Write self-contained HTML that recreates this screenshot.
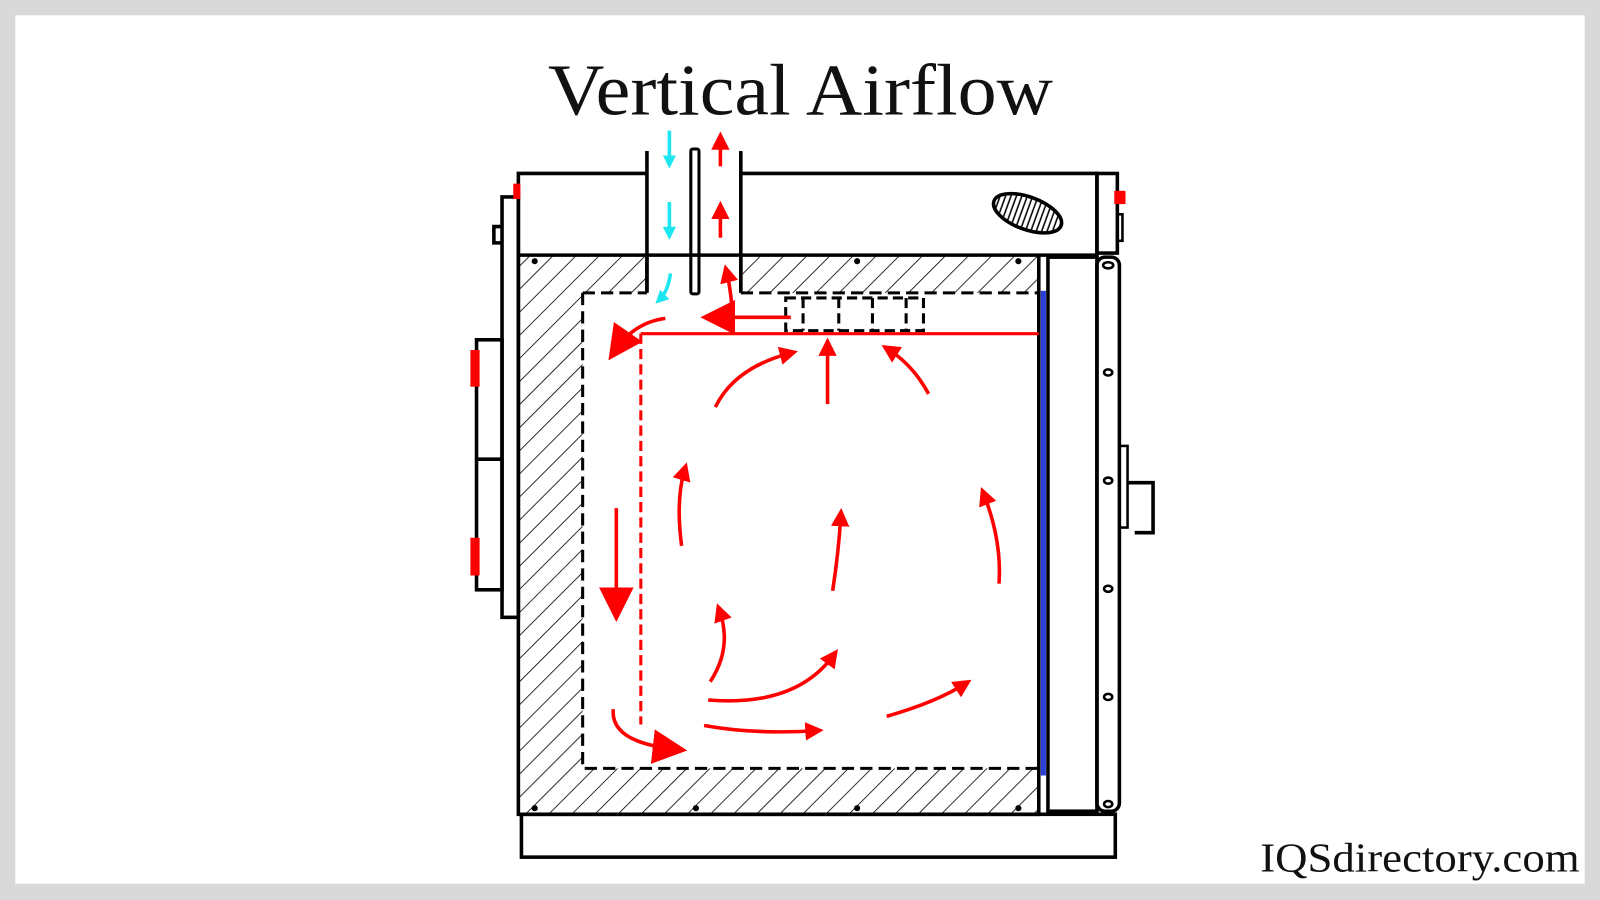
<!DOCTYPE html>
<html><head><meta charset="utf-8"><style>
html,body{margin:0;padding:0;background:#d9d9d9}
svg{display:block}
</style></head><body>
<svg width="1600" height="900" viewBox="0 0 1568 882" preserveAspectRatio="none" xmlns="http://www.w3.org/2000/svg">
<defs>
<pattern id="h" patternUnits="userSpaceOnUse" width="16" height="16" patternTransform="rotate(45)">
<rect width="16" height="16" fill="#fff"/><line x1="0" y1="0" x2="0" y2="16" stroke="#000" stroke-width="1.6"/></pattern>
<pattern id="v" patternUnits="userSpaceOnUse" width="5" height="5"><rect width="5" height="5" fill="#fff"/><line x1="1" y1="0" x2="1" y2="5" stroke="#000" stroke-width="1.5"/></pattern>
<marker id="a" viewBox="0 0 10 10" refX="6" refY="5" markerWidth="18" markerHeight="18" orient="auto" markerUnits="userSpaceOnUse"><path d="M0,0L10,5L0,10z" fill="#f00"/></marker>
<marker id="ab" viewBox="0 0 10 10" refX="6" refY="5" markerWidth="34" markerHeight="34" orient="auto" markerUnits="userSpaceOnUse"><path d="M0,0L10,5L0,10z" fill="#f00"/></marker>
<marker id="ac" viewBox="0 0 10 10" refX="6" refY="5" markerWidth="13" markerHeight="13" orient="auto" markerUnits="userSpaceOnUse"><path d="M0,0L10,5L0,10z" fill="#1de6f0"/></marker>
</defs>
<rect x="15" y="15" width="1538" height="851" fill="#fff"/>
<text x="537" y="112" textLength="495" lengthAdjust="spacingAndGlyphs" font-family="'Liberation Serif',serif" font-size="72" fill="#111">Vertical Airflow</text>
<text x="1235" y="854" textLength="313" lengthAdjust="spacingAndGlyphs" font-family="'Liberation Serif',serif" font-size="40" fill="#111">IQSdirectory.com</text>
<!-- hatched fills -->
<path d="M508,250H634V287H571V753H1018V798H508Z" fill="url(#h)"/>
<path d="M726,250H1018V287H726Z" fill="url(#h)"/>
<g stroke="#000" stroke-width="3.5" fill="none">
<path d="M508,250V798H1018V250"/>
<path d="M634,250V287M726,250V287"/>
<path d="M571,287V753H1018M571,287H634M726,287H1018" stroke-dasharray="12,6" stroke-width="3"/>
<!-- top box -->
<path d="M508,250V170H634M726,170H1075V250H508"/>
<rect x="1075" y="170" width="20" height="78"/>
<rect x="1095" y="210" width="5" height="26" stroke-width="2.5"/>
<path d="M634,148V285M726,148V285"/>
<rect x="677" y="146" width="8" height="142" rx="2" stroke-width="3"/>
<!-- base -->
<rect x="511" y="798" width="582" height="42"/>
<!-- right door -->
<rect x="1027" y="252" width="48" height="543"/>
<rect x="1075" y="252" width="22" height="543" rx="8"/>
<rect x="1097" y="437" width="8" height="80" stroke-width="2.5"/>
<path d="M1105,473H1130V522H1112"/>
<!-- left bracket -->
<rect x="492" y="193" width="16" height="412"/>
<path d="M492,222H484V238H492"/>
<rect x="467" y="333" width="25" height="245"/>
<line x1="467" y1="450" x2="492" y2="450"/>
</g>
<g fill="#000">
<circle cx="524" cy="256" r="3"/><circle cx="840" cy="256" r="3"/><circle cx="998" cy="256" r="3"/>
<circle cx="524" cy="792" r="3"/><circle cx="682" cy="792" r="3"/><circle cx="840" cy="792" r="3"/><circle cx="998" cy="792" r="3"/>
</g>
<g fill="#fff" stroke="#000" stroke-width="2.5">
<ellipse cx="1086" cy="260" rx="5" ry="3"/><ellipse cx="1086" cy="365" rx="4" ry="3"/><ellipse cx="1086" cy="471" rx="4" ry="3"/><ellipse cx="1086" cy="577" rx="4" ry="3"/><ellipse cx="1086" cy="683" rx="4" ry="3"/><ellipse cx="1086" cy="788" rx="4" ry="3"/>
</g>
<ellipse cx="1007" cy="209" rx="35" ry="16" transform="rotate(20 1007 209)" fill="url(#v)" stroke="#000" stroke-width="3.5"/>
<rect x="1020" y="285" width="5" height="475" fill="#2a3fd8"/>
<g fill="#f00">
<rect x="503" y="180" width="7" height="15"/><rect x="1092" y="187" width="11" height="13"/>
<rect x="461" y="343" width="9" height="36"/><rect x="461" y="527" width="9" height="37"/>
</g>
<!-- filter -->
<g stroke="#000" stroke-width="3" fill="none" stroke-dasharray="10,5">
<rect x="770" y="292" width="135" height="32"/>
<path d="M787,292V324M822,292V324M855,292V324M888,292V324"/>
</g>
<!-- red lines -->
<path d="M628,327H1018" stroke="#f00" stroke-width="3"/>
<path d="M628,327V710" stroke="#f00" stroke-width="3" stroke-dasharray="10,5"/>
<!-- cyan -->
<g stroke="#1de6f0" stroke-width="3.5" fill="none">
<path d="M656,128V160" marker-end="url(#ac)"/>
<path d="M656,198V230" marker-end="url(#ac)"/>
<path d="M657,268Q655,285 646,294" marker-end="url(#ac)"/>
</g>
<!-- red arrows -->
<g stroke="#f00" stroke-width="3.5" fill="none">
<path d="M706,163V136" marker-end="url(#a)"/>
<path d="M706,233V204" marker-end="url(#a)"/>
<path d="M717,297Q715,278 712,266" marker-end="url(#a)"/>
<path d="M775,311H700" marker-end="url(#ab)"/>
<path d="M652,312Q622,316 604,342" marker-end="url(#ab)"/>
<path d="M811,396V338" marker-end="url(#a)"/>
<path d="M701,399Q720,360 775,346" marker-end="url(#a)"/>
<path d="M910,386Q895,358 870,342" marker-end="url(#a)"/>
<path d="M604,498V596" marker-end="url(#ab)"/>
<path d="M668,535Q662,490 671,460" marker-end="url(#a)"/>
<path d="M816,579Q822,540 824,505" marker-end="url(#a)"/>
<path d="M979,572Q982,530 964,484" marker-end="url(#a)"/>
<path d="M696,668Q718,635 705,598" marker-end="url(#a)"/>
<path d="M694,686Q780,693 817,642" marker-end="url(#a)"/>
<path d="M869,702Q918,688 946,670" marker-end="url(#a)"/>
<path d="M690,711Q740,720 800,716" marker-end="url(#a)"/>
<path d="M601,695Q598,727 660,734" marker-end="url(#ab)"/>
</g>
</svg>
</body></html>
